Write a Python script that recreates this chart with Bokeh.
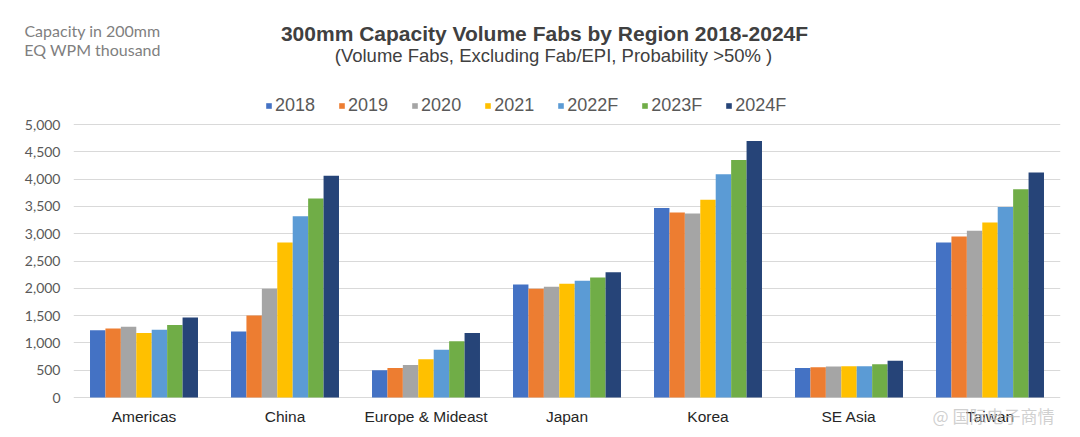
from bokeh.plotting import figure
from bokeh.models import (ColumnDataSource, FactorRange, Range1d, Legend, LegendItem,
                          Label, NumeralTickFormatter, FixedTicker)
from bokeh.transform import dodge
from bokeh.layouts import column
from bokeh.embed import file_html
from bokeh.resources import INLINE

regions = ["Americas", "China", "Europe & Mideast", "Japan", "Korea", "SE Asia", "Taiwan"]
years = ["2018", "2019", "2020", "2021", "2022F", "2023F", "2024F"]

v2018 = [1230, 1210, 500, 2070, 3470, 540, 2840]
v2019 = [1265, 1500, 540, 1990, 3390, 553, 2950]
v2020 = [1295, 1990, 596, 2030, 3370, 566, 3055]
v2021 = [1180, 2840, 700, 2085, 3620, 572, 3205]
v2022 = [1240, 3320, 876, 2140, 4090, 572, 3490]
v2023 = [1330, 3645, 1028, 2200, 4350, 608, 3815]
v2024 = [1465, 4060, 1180, 2295, 4700, 675, 4120]

colors = ["#4472C4", "#ED7D31", "#A5A5A5", "#FFC000", "#5B9BD5", "#70AD47", "#264478"]
series = [v2018, v2019, v2020, v2021, v2022, v2023, v2024]

title_text = "300mm Capacity Volume Fabs by Region 2018-2024F"
subtitle_text = "(Volume Fabs, Excluding Fab/EPI, Probability >50% )"
note_lines = ["Capacity in 200mm", "EQ WPM thousand"]
watermark_text = "@ 国际电子商情"

W = 1080
HEAD_H = 80
MAIN_H = 357
# pixel layout of the main chart (page coordinates)
FRAME_TOP, Y5000_PX, ZERO_PX, FRAME_BOTTOM = 80, 124, 397, 432
px_per_unit = (ZERO_PX - Y5000_PX) / 5000
y_end = (ZERO_PX - FRAME_TOP) / px_per_unit
y_start = -(FRAME_BOTTOM - ZERO_PX) / px_per_unit

def no_frame_align(fig):
    try:
        fig.frame_align = False
    except Exception:
        pass

# ---------- header with titles ----------
head = figure(width=W, height=HEAD_H, x_range=Range1d(0, W), y_range=Range1d(0, HEAD_H),
              x_axis_type=None, y_axis_type=None, output_backend="svg", toolbar_location=None,
              min_border=0)
head.outline_line_color = None
head.grid.visible = False
no_frame_align(head)

def head_label(text, x, y_from_top, size, font="Liberation Sans", color="#404040", style="normal"):
    head.add_layout(Label(x=x, y=HEAD_H - y_from_top, text=text, text_font=font,
                          text_font_size=size, text_color=color, text_font_style=style,
                          text_align="center", text_baseline="middle"))

head_label(title_text, 544, 33, "21px", style="bold")
head_label(subtitle_text, 553, 55, "18.5px")
head_label(note_lines[0], 92, 30, "16px", font="Lato", color="#7F7F7F")
head_label(note_lines[1], 92, 49, "16px", font="Lato", color="#7F7F7F")

# ---------- main chart ----------
data = {"region": regions}
for y, s in zip(years, series):
    data["y" + y] = s
source = ColumnDataSource(data)

p = figure(x_range=FactorRange(factors=regions, range_padding=0),
           y_range=Range1d(y_start, y_end),
           width=W, height=MAIN_H, output_backend="svg", toolbar_location=None,
           min_border_left=73, min_border_right=20, min_border_top=0,
           min_border_bottom=437 - FRAME_BOTTOM)
p.outline_line_color = None
no_frame_align(p)

bw = 0.1094
items = []
for i, (y, c) in enumerate(zip(years, colors)):
    r = p.vbar(x=dodge("region", (i - 3) * bw, range=p.x_range), top="y" + y, bottom=0,
               width=bw, source=source, fill_color=c, line_color=None)
    items.append(LegendItem(label=y, renderers=[r]))

legend = Legend(items=items, orientation="horizontal", location=(192, FRAME_BOTTOM - 116),
                glyph_width=7, glyph_height=7, label_standoff=3, spacing=23,
                padding=0, margin=0, border_line_color=None, background_fill_alpha=0,
                label_text_font="Liberation Sans", label_text_font_size="18px",
                label_text_color="#595959", label_height=20)
p.add_layout(legend, "center")

p.yaxis.ticker = FixedTicker(ticks=list(range(0, 5001, 500)))
p.yaxis.formatter = NumeralTickFormatter(format="0,0")
p.yaxis.axis_line_color = None
p.yaxis.major_tick_line_color = None
p.yaxis.minor_tick_line_color = None
p.yaxis.major_tick_out = 0
p.yaxis.major_tick_in = 0
p.yaxis.major_label_text_font = "Lato"
p.yaxis.major_label_text_font_size = "14px"
p.yaxis.major_label_text_color = "#595959"
p.yaxis.major_label_standoff = 13

# category axis sits at the bottom of the (extended) frame; its labels are pulled up
p.xaxis.axis_line_color = None
p.xaxis.major_tick_line_color = None
p.xaxis.minor_tick_line_color = None
p.xaxis.major_tick_out = 0
p.xaxis.major_tick_in = 0
p.xaxis.major_label_text_font = "Liberation Sans"
p.xaxis.major_label_text_font_size = "15.5px"
p.xaxis.major_label_text_color = "#262626"
p.xaxis.major_label_standoff = -(FRAME_BOTTOM - 407)

p.xgrid.grid_line_color = None
p.ygrid.grid_line_color = "#D9D9D9"
p.ygrid.grid_line_width = 1

wm = Label(x=920, y=FRAME_BOTTOM - 415, x_units="screen", y_units="screen", text=watermark_text,
           text_font="Noto Sans CJK SC", text_font_size="17px", text_color="#C4C4C4",
           text_alpha=0.8, text_align="center", text_baseline="middle")
p.add_layout(wm, "center")

layout = column(head, p, spacing=0)
open("out.html", "w").write(file_html(layout, INLINE))
